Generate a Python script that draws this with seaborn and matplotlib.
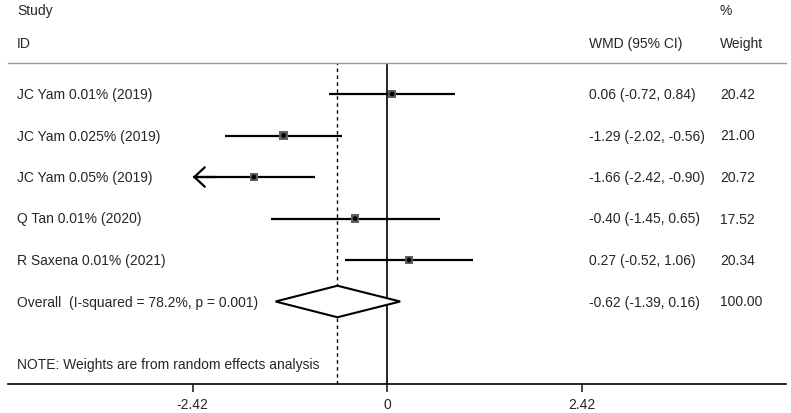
import matplotlib
matplotlib.use("Agg")
import matplotlib.pyplot as plt
import matplotlib.transforms as mtransforms
import seaborn as sns
import pandas as pd

# ---- data ----
studies = ["JC Yam 0.01% (2019)", "JC Yam 0.025% (2019)", "JC Yam 0.05% (2019)",
           "Q Tan 0.01% (2020)", "R Saxena 0.01% (2021)"]
wmd = [0.06, -1.29, -1.66, -0.40, 0.27]
ci_lo = [-0.72, -2.02, -2.42, -1.45, -0.52]
ci_hi = [0.84, -0.56, -0.90, 0.65, 1.06]
weights = [20.42, 21.00, 20.72, 17.52, 20.34]
overall_label = "Overall  (I-squared = 78.2%, p = 0.001)"
overall_est = -0.62
overall_lo = -1.39
overall_hi = 0.16
overall_weight = 100.00
tick_values = [-2.42, 0, 2.42]
tick_labels = ["-2.42", "0", "2.42"]
note = "NOTE: Weights are from random effects analysis"

sns.set_style("white")
plt.rcParams['font.family'] = ['Liberation Sans', 'DejaVu Sans']
FS = 10

W, H = 791, 413
fig = plt.figure(figsize=(W / 100, H / 100), dpi=100)
ax_left, ax_right = 8, 786
ax_top, ax_bottom = 62.7, 384
ax = fig.add_axes([ax_left / W, 1 - ax_bottom / H, (ax_right - ax_left) / W, (ax_bottom - ax_top) / H])

zero_px, px_per_unit = 387.3, 80.4
ax.set_xlim(-(zero_px - ax_left) / px_per_unit, (ax_right - zero_px) / px_per_unit)
row_h, row0 = 41.5, 94.0
ax.set_ylim((ax_bottom - row0) / row_h, (ax_top - row0) / row_h)

df = pd.DataFrame({"study": studies, "wmd": wmd, "lo": ci_lo, "hi": ci_hi,
                   "weight": weights, "row": range(len(studies))})

clip = min(tick_values)
# CI lines
for _, r in df.iterrows():
    lo = max(r["lo"], clip)
    ax.plot([lo, r["hi"]], [r["row"], r["row"]], color="black", lw=1.6,
            solid_capstyle="butt", zorder=3)
    if r["lo"] <= clip:
        ax.annotate("", xy=(clip, r["row"]), xytext=(clip + 0.3, r["row"]),
                    arrowprops=dict(arrowstyle="->,head_length=0.75,head_width=0.7",
                                    lw=1.6, color="black", shrinkA=0, shrinkB=0,
                                    mutation_scale=10), zorder=3)

# weight boxes and point estimates
sns.scatterplot(data=df, x="wmd", y="row", marker="s", s=38, color="#606060",
                edgecolor="none", ax=ax, zorder=4, legend=False)
sns.scatterplot(data=df, x="wmd", y="row", marker="o", s=12, color="black",
                edgecolor="none", ax=ax, zorder=5, legend=False)

# overall diamond
orow = len(studies)
dh = 0.38
ax.fill([overall_lo, overall_est, overall_hi, overall_est],
        [orow, orow - dh, orow, orow + dh], facecolor="white",
        edgecolor="black", lw=1.5, zorder=4)

# reference lines
ax.axvline(0, color="black", lw=1.2, zorder=2)
ax.axvline(overall_est, color="black", lw=1.0, ls=(0, (2.5, 2.5)), zorder=2)

# spines and ticks
for s in ["left", "right"]:
    ax.spines[s].set_visible(False)
ax.spines["top"].set_color("#9a9a9a")
ax.spines["top"].set_linewidth(1.0)
ax.spines["bottom"].set_color("black")
ax.spines["bottom"].set_linewidth(1.2)
ax.set_yticks([])
ax.set_xticks(tick_values)
ax.set_xticklabels(tick_labels, fontsize=FS)
ax.tick_params(axis="x", direction="out", length=6, width=1.2, pad=4, bottom=True)
ax.set_xlabel("")
ax.set_ylabel("")

# text columns (baseline-aligned, shifted so caps are centred on the row)
shift = mtransforms.ScaledTranslation(0, -0.05, fig.dpi_scale_trans)
tr = mtransforms.blended_transform_factory(fig.transFigure, ax.transData) + shift
trf = fig.transFigure + shift
x_study, x_wmd, x_wt = 17 / W, 589 / W, 720 / W
kw = dict(ha="left", va="baseline", fontsize=FS)
for i, r in df.iterrows():
    ax.text(x_study, r["row"], r["study"], transform=tr, **kw)
    ax.text(x_wmd, r["row"], f"{r['wmd']:.2f} ({r['lo']:.2f}, {r['hi']:.2f})",
            transform=tr, **kw)
    ax.text(x_wt, r["row"], f"{r['weight']:.2f}", transform=tr, **kw)
ax.text(x_study, orow, overall_label, transform=tr, **kw)
ax.text(x_wmd, orow, f"{overall_est:.2f} ({overall_lo:.2f}, {overall_hi:.2f})",
        transform=tr, **kw)
ax.text(x_wt, orow, f"{overall_weight:.2f}", transform=tr, **kw)
ax.text(x_study, (364 - row0) / row_h, note, transform=tr, **kw)

# headers
fig.text(x_study, 1 - 10 / H, "Study", transform=trf, **kw)
fig.text(x_study, 1 - 43 / H, "ID", transform=trf, **kw)
fig.text(x_wt, 1 - 10 / H, "%", transform=trf, **kw)
fig.text(x_wmd, 1 - 43 / H, "WMD (95% CI)", transform=trf, **kw)
fig.text(x_wt, 1 - 43 / H, "Weight", transform=trf, **kw)

fig.savefig("out.png", dpi=100)
